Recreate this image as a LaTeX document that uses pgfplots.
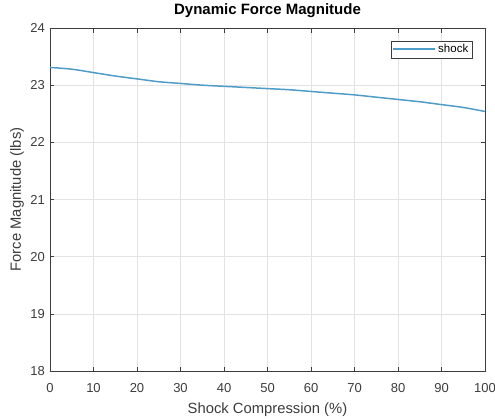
\documentclass[border=0pt]{standalone}
\usepackage{pgfplots}
\pgfplotsset{compat=1.18}
\usepackage{fontspec}
\setmainfont{Liberation Sans}
\definecolor{shockblue}{RGB}{80,156,200}
\definecolor{axgray}{RGB}{60,60,60}
\begin{document}
\begin{tikzpicture}
\begin{axis}[
    scale only axis,
    width=435pt, height=343pt,
    xmin=0, xmax=100, ymin=18, ymax=24,
    xtick={0,10,...,100},
    ytick={18,19,...,24},
    grid=major,
    major grid style={gray!22, line width=0.5pt},
    axis line style={axgray, line width=0.7pt},
    tick style={axgray, line width=0.6pt},
    tick align=inside,
    major tick length=4.5pt,
    ticklabel style={font=\fontsize{13}{15}\selectfont, text=axgray},
    xticklabel style={anchor=base, yshift=-21pt},
    yticklabel style={anchor=east, inner sep=0pt, xshift=-5pt},
    /pgf/number format/assume math mode=true,
    xlabel={Shock Compression (\%)},
    ylabel={Force Magnitude (lbs)},
    label style={font=\fontsize{14.8}{17}\selectfont, text=axgray},
    xlabel style={at={(axis description cs:0.5,0)}, anchor=base, yshift=-42pt},
    ylabel style={at={(axis description cs:0,0.5)}, anchor=base, yshift=29pt},
    title={\textbf{Dynamic Force Magnitude}},
    title style={font=\fontsize{15}{17}\selectfont, at={(axis description cs:0.5,1)},
        anchor=base, yshift=8pt},
    legend style={at={(0.970,0.963)}, anchor=north east, draw=axgray,
        font=\fontsize{11.5}{13}\selectfont, inner sep=1.5pt,
        nodes={inner sep=2pt}},
    legend cell align=left,
    legend image code/.code={\draw[shockblue, line width=2pt]
        (0pt,0.5pt) -- (42pt,0.5pt);},
]
\addplot[shockblue, line width=1.5pt, smooth] coordinates {
    (0,23.31) (5,23.28) (10,23.22) (15,23.16) (20,23.11) (25,23.06)
    (30,23.03) (35,23.00) (40,22.98) (45,22.96) (50,22.94) (55,22.92)
    (60,22.89) (65,22.86) (70,22.83) (75,22.79) (80,22.75) (85,22.71)
    (90,22.66) (95,22.61) (100,22.54)
};
\addlegendentry{shock}
\end{axis}
\pgfresetboundingbox
\useasboundingbox (-50pt,-47pt) rectangle (445pt,371pt);
\end{tikzpicture}
\end{document}
